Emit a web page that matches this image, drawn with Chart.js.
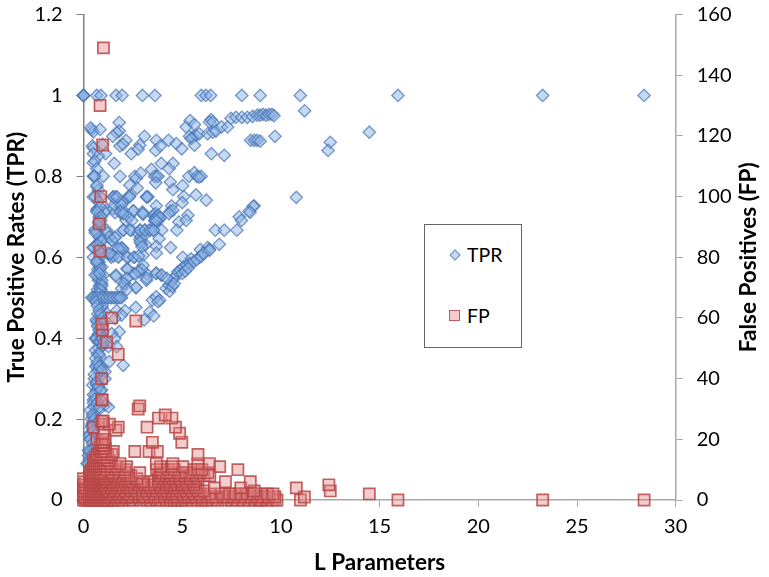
<!DOCTYPE html>
<html>
<head>
<meta charset="utf-8">
<title>TPR and FP against L</title>
<script src="https://cdn.jsdelivr.net/npm/chart.js@4/dist/chart.umd.min.js"></script>
<style>
    body { margin: 0; background: #fff; }
    #wrap { position: relative; width: 769px; height: 577px; }
    #legend {
        position: absolute; left: 424px; top: 223.5px; width: 97.5px; height: 124px;
        box-sizing: border-box;
        border: 1.5px solid #666; background: #fff;
        font: 19.5px Lato, sans-serif; color: #000;
    }
    .item { position: absolute; left: 42px; line-height: 24px; }
    .swatch { position: absolute; box-sizing: border-box; }
    .diamond { left: 25.5px; width: 8px; height: 8px; transform: rotate(45deg); }
    .square { left: 24px; width: 11px; height: 11px; }
</style>
</head>
<body>
<div id="wrap">
    <canvas id="chart" width="769" height="577"></canvas>
    <div id="legend"></div>
</div>
<script>
/*data*/
const xTicks = [0, 5, 10, 15, 20, 25, 30];
const tprTicks = [0, 0.2, 0.4, 0.6, 0.8, 1, 1.2];
const fpTicks = [0, 20, 40, 60, 80, 100, 120, 140, 160];

const tprL = [
    0,.67,.88,1.65,1.96,2.99,3.62,5.97,6.2,6.44,
    8.02,8.95,10.98,15.93,23.26,28.4,1.81,.42,.5,.37,
    .84,1.81,1.68,1.48,2.15,3.09,3.69,4.31,4.7,4.98,
    3.66,3.89,2.85,2.77,2.42,1.85,2.0,.45,.5,1.12,
    .75,.5,.97,1.56,.5,.58,.67,.5,.58,1.0,
    1.85,2.6,2.68,2.9,3.44,3.94,4.53,4.33,3.69,3.6,
    3.78,3.66,4.4,5.02,4.53,5.34,5.62,5.74,5.96,5.85,
    2.35,2.72,.67,.75,.5,.87,1.5,1.64,2.27,2.35,
    3.19,3.27,5.08,5.0,5.7,6.22,3.69,4.46,2.0,1.85,
    1.17,.67,.75,1.09,1.98,1.93,2.52,2.99,3.02,4.4,
    4.53,4.33,3.6,3.74,3.86,3.69,5.29,4.83,5.2,8.64,
    8.39,7.89,8.0,.8,2.15,1.17,.59,2.0,2.43,2.85,
    3.1,3.32,3.52,3.96,4.73,6.68,7.13,7.77,1.43,1.59,
    2.85,3.15,2.93,3.83,4.41,3.69,.84,.5,1.93,1.76,
    2.0,6.88,6.29,6.38,5.92,5.03,5.45,5.87,6.08,.5,
    .84,1.34,1.76,2.27,2.6,3.02,3.69,.84,.8,.92,
    .67,.84,1.0,.76,.92,.84,1.64,2.21,2.55,2.85,
    3.02,3.22,3.19,2.18,2.1,1.93,2.65,3.69,3.94,4.19,
    4.33,4.45,4.57,4.7,4.78,4.9,5.07,5.23,5.4,5.57,
    5.73,5.96,6.08,6.38,4.36,4.5,4.6,5.0,5.15,5.3,
    .42,.59,.76,.92,1.09,1.26,1.43,1.6,1.77,1.93,
    3.49,3.69,3.86,3.78,2.65,3.36,3.56,3.07,.92,1.09,
    1.68,2.1,1.93,1.59,.64,.84,1.81,1.43,1.59,.67,
    .76,1.0,1.26,1.68,.84,1.31,2.01,.67,.92,1.09,
    .84,1.09,.47,.76,.92,.5,.67,1.09,1.26,.76,
    .5,.34,.5,.34,.42,.25,.17,.67,.84,.6,
    .72,.8,.88,.72,.8,.88,.75,.85,.7,.8,
    .72,.82,.9,.7,.8,.68,.78,.88,.75,.65,
    .75,.85,.95,.6,.7,.8,.62,.72,.55,.65,
    .6,.5,.55,.4,.45,.3,.35,.4,.25,.3,
    5.37,5.53,5.7,5.87,5.45,5.62,5.2,5.4,5.62,6.46,
    6.38,6.55,6.29,6.55,6.71,7.0,7.3,7.47,7.72,8.02,
    8.3,8.56,8.8,8.95,9.1,9.25,9.4,9.55,9.65,11.2,
    8.47,8.65,8.8,8.95,9.7,12.5,12.39,14.48,10.78,8.6,
    8.44,6.48,7.13,1.5,1.6,1.55,1.2,1.3,2.3,2.45,
    3.55,3.65,3.75,3.6,3.7,2.75,2.9,3.1,1.4,1.25,
    0,0,0,.54,.68,.59,.76,.84,.68,.9,
    .76,.59,.84,.93,.76,.5,.68,.84,.59,.93,
    .93,.84,.76,.6,.7,.9,.66,.8,.95,.72,
    1.52,1.7,2.33,3.2,1.94,1.86,2.03,2.53,3.0,3.72,
    3.8,3.88,3.62,3.7,2.03,2.36,2.87,3.12,3.38,3.55,
    1.44,1.6,2.87,2.96,1.94,1.77,1.52,1.77,2.2,2.53,
    2.79,1.35,2.23,2.96,2.79,2.62,1.64,2.2,3.2,2.03,
    2.67,2.2,3.68,3.97,4.22,.5,.67,.84,1.0,1.18,
    1.35,1.52,1.7,1.85,.62,.7,.78,.86,.94,1.02,
    .7,.78,.86,.94,1.02,.62,.7,.8,.9,.55,
    .65,.75,.85,.5,.6,.7,.8,.45,.55,.65,
    .4,.5,.6,.35,.45,.55,.3,.4,.5,.25
];
const tprRates = [
    1,1,1,1,1,1,1,1,1,1,
    1,1,1,1,1,1,.933,.915,.91,.92,
    .916,.912,.908,.899,.889,.899,.889,.889,.881,.868,
    .864,.875,.877,.867,.856,.875,.879,.875,.87,.856,
    .85,.856,.879,.832,.833,.838,.819,.8,.8,.8,
    .8,.8,.795,.808,.817,.832,.832,.819,.8,.8,
    .8,.784,.786,.777,.767,.8,.809,.8,.8,.798,
    .778,.771,.774,.766,.749,.749,.749,.749,.749,.753,
    .749,.749,.75,.735,.754,.741,.727,.727,.737,.733,
    .718,.716,.72,.712,.716,.708,.714,.712,.706,.714,
    .716,.708,.7,.7,.695,.69,.704,.687,.691,.727,
    .714,.7,.691,.683,.691,.667,.667,.667,.667,.667,
    .667,.667,.667,.667,.667,.667,.667,.667,.642,.65,
    .644,.631,.633,.646,.624,.627,.642,.624,.624,.62,
    .62,.632,.624,.62,.619,.6,.596,.6,.61,.6,
    .613,.605,.602,.6,.6,.605,.61,.6,.588,.576,
    .556,.556,.556,.543,.535,.523,.556,.572,.56,.568,
    .58,.558,.543,.547,.535,.523,.525,.561,.556,.523,
    .531,.539,.547,.556,.564,.568,.576,.58,.584,.588,
    .594,.602,.609,.617,.516,.528,.535,.56,.566,.573,
    .5,.5,.5,.5,.5,.5,.5,.5,.5,.5,
    .494,.502,.494,.49,.476,.465,.455,.445,.476,.465,
    .468,.468,.457,.449,.445,.44,.416,.411,.399,.397,
    .375,.383,.379,.379,.354,.342,.333,.333,.329,.317,
    .305,.3,.284,.284,.272,.247,.255,.235,.23,.222,
    .214,.222,.206,.165,.185,.123,.09,.285,.25,.4,
    .72,.7,.69,.66,.65,.64,.63,.62,.59,.58,
    .57,.53,.52,.52,.51,.44,.43,.42,.41,.4,
    .39,.39,.38,.37,.36,.36,.33,.32,.3,.27,
    .26,.24,.23,.2,.19,.16,.15,.12,.11,.1,
    .899,.897,.901,.905,.893,.877,.922,.938,.928,.94,
    .934,.934,.905,.909,.912,.922,.922,.943,.946,.946,
    .946,.948,.951,.951,.953,.951,.953,.953,.95,.962,
    .889,.889,.889,.887,.899,.884,.864,.909,.748,.726,
    .711,.856,.852,.72,.71,.73,.66,.65,.7,.69,
    .705,.708,.69,.69,.7,.66,.65,.655,.6,.61,
    1,1,1,.8,.778,.749,.737,.724,.712,.7,
    .687,.667,.65,.64,.617,.624,.585,.572,.556,.543,
    .53,.52,.51,.66,.63,.61,.59,.56,.48,.46,
    .749,.749,.749,.749,.729,.712,.708,.715,.708,.698,
    .704,.698,.692,.69,.667,.667,.667,.667,.667,.667,
    .642,.648,.638,.626,.622,.622,.603,.6,.6,.6,
    .603,.609,.57,.57,.564,.558,.553,.548,.548,.535,
    .525,.52,.56,.556,.548,.5,.5,.5,.5,.5,
    .5,.5,.5,.5,.49,.48,.47,.46,.45,.44,
    .43,.42,.41,.4,.39,.35,.34,.33,.32,.31,
    .29,.28,.27,.26,.25,.24,.23,.21,.2,.19,
    .18,.17,.16,.15,.14,.13,.12,.11,.1,.09
];

/* false positives, listed per count */
const fpCounts = [0, 1, 2, 3, 4, 5, 6, 7, 8, 9, 10, 11, 12, 13, 14, 15, 16, 17, 18, 19, 20, 22, 23, 24, 25, 26, 27, 28, 30, 31, 33, 40, 48, 52, 56, 58, 59, 60, 82, 91, 100, 117, 130, 149];
const fpLAtCount = [
    [0,.1,.2,.3,.4,.5,.6,.7,.8,.9,1,1.1,1.2,1.3,1.5,1.6,1.8,2.0,2.3,2.5,2.9,3.2,3.4,3.7,3.9,4.2,4.4,4.6,4.8,5,5.2,5.5,5.8,6,6.2,6.5,6.8,7.2,7.5,7.8,8.1,8.4,8.7,8.9,9,9.3,9.6,9.8,10.99,15.93,23.26,28.4],
    [0,.1,.3,.4,.5,.6,.7,.8,.9,1,1.1,1.2,1.3,1.4,1.6,1.7,1.9,2.1,2.2,2.4,2.5,2.8,3,3.1,3.4,3.6,3.8,4.1,4.4,4.6,4.8,5.1,5.3,5.5,5.7,6,6.3,6.5,6.7,7.1,7.3,7.6,7.9,8.2,8.5,8.8,9.1,9.4,9.7,11.19],
    [0,.2,.3,.4,.5,.6,.7,.8,.9,1,1.1,1.2,1.3,1.4,1.5,1.7,1.8,2,2.2,2.3,2.6,2.8,3,3.3,3.6,3.9,4.1,4.3,4.5,4.7,5,5.3,5.6,5.9,6.4,7,7.4,7.7,8,8.3,8.6,9,9.3,9.6,14.48],
    [0,.3,.4,.5,.6,.7,.8,.9,1,1.1,1.2,1.3,1.5,1.6,1.8,1.9,2.1,2.4,2.7,3,3.2,3.5,3.7,4,4.2,4.5,4.7,4.9,5.2,5.5,5.8,6.1,8.65,12.5],
    [0,.1,.4,.5,.6,.7,.8,.9,1,1.1,1.2,1.4,1.6,1.7,1.9,2,2.2,2.4,2.6,3,3.2,3.4,3.7,3.9,4.1,4.4,4.6,4.8,5.1,5.4,5.7,6.63,7.97,10.78],
    [0,.3,.4,.5,.6,.7,.8,.9,1,1.1,1.3,1.5,1.7,1.8,2,2.2,2.4,2.8,3.1,3.3,3.6,3.9,4.2,4.4,4.6,4.8,5,5.3,5.6,12.43],
    [.1,.3,.4,.5,.6,.7,.8,.9,1,1.1,1.2,1.4,1.5,1.7,1.9,2.1,2.3,2.5,2.9,3,3.6,3.8,4,4.2,4.4,4.7,5,5.2,5.6,7.19,8.45],
    [0,.3,.4,.5,.6,.7,.8,.9,1,1.1,1.2,1.4,1.6,1.7,1.9,2.1,2.3,2.7,3.8,4.1,4.3,4.5,4.7,4.9,5.2,5.4,5.8],
    [.3,.4,.5,.6,.7,.8,.9,1,1.1,1.3,1.5,1.6,1.8,2,2.2,2.4,3.8,3.9,4.2,4.4,4.6,4.9,5.1,5.4,5.7,6.1,6.4],
    [.3,.4,.5,.6,.7,.8,.9,1,1.1,1.3,1.4,1.5,1.8,2.1,2.85,3.9,4,4.2,4.4,4.8,5.2,5.5,5.9,6.3],
    [.4,.5,.6,.7,.8,.9,1,1.1,1.2,1.4,1.6,1.8,2.1,3.7,3.9,4.3,4.6,5.6,5.8,6,7.82],
    [.5,.6,.7,.8,.9,1,1.1,1.2,1.4,1.7,2.18,3.9,4.5,5.03,6.9],
    [.5,.6,.7,.8,.9,1,1.1,1.2,1.4,1.85,3.69,4.53,5.79,6.38],
    [.5,.6,.7,.8,.9,1,1.1,1.2,1.3],
    [.6,.7,.8,.9,1,1.1,1.2],
    [.7,.85,1,1.2,1.43,5.8],
    [.9,1,1.1,1.51,2.6,3.32,3.74],
    [.8,.9,1,1.1],
    [.9,.95,1.05],
    [.9,1,3.49,4.98],
    [.67,.95,1.1],
    [1,4.87],
    [1.64],
    [.5,1.76,3.22,4.66],
    [1,1.31],
    [.92,1],
    [3.8,4.48],
    [4.14],
    [2.77],
    [2.85],
    [.92,.95],
    [.92],
    [1.76],
    [1.17],
    [.96],
    [.92],
    [2.65],
    [1.43],
    [.84],
    [.8],
    [.87],
    [.97],
    [.84],
    [1.01]
];
/**/

const fontName = 'Lato, sans-serif';
const titleFont = {family: fontName, size: 22.5, weight: 'bold'};
const tickFont = {family: fontName, size: 20};

let tprPoints = tprL.map((l, i) => ({x: l, y: tprRates[i]}));
let fpPoints = fpCounts.flatMap((count, i) => fpLAtCount[i].map(l => ({x: l, y: count})));

function forceTicks(values) {
    return function(scale) {
        scale.ticks = values.map(v => ({value: v}));
    };
}

function fitSide(width) {
    return function(scale) {
        scale.width = width;
        scale.paddingTop = 0;
        scale.paddingBottom = 0;
    };
}

/* the library turns a right hand title clockwise, this one reads upwards */
let rightTitlePlugin = {
    id: 'rightTitle',
    afterDraw(chart) {
        let ctx = chart.ctx;
        let area = chart.chartArea;
        ctx.save();
        ctx.translate(749, (area.top + area.bottom) / 2);
        ctx.rotate(-Math.PI / 2);
        ctx.textAlign = 'center';
        ctx.textBaseline = 'middle';
        ctx.fillStyle = '#000';
        ctx.font = 'bold 22.5px ' + fontName;
        ctx.fillText('False Positives (FP)', 0, 0);
        ctx.restore();
    }
};

let scatterChart = {
    type: 'scatter',
    data: {
        datasets: [{
            label: 'TPR',
            data: tprPoints,
            yAxisID: 'y',
            order: 2,
            clip: false,
            pointStyle: 'rectRot',
            pointRadius: 6.2,
            pointBorderWidth: 1.3,
            backgroundColor: 'rgba(140, 180, 230, 0.5)',
            borderColor: 'rgba(70, 115, 180, 0.72)'
        }, {
            label: 'FP',
            data: fpPoints,
            yAxisID: 'y1',
            order: 1,
            clip: false,
            pointStyle: 'rect',
            pointRadius: 7.9,
            pointBorderWidth: 1.7,
            backgroundColor: 'rgba(225, 130, 130, 0.4)',
            borderColor: 'rgba(185, 70, 70, 0.85)'
        }]
    },
    options: {
        responsive: false,
        animation: false,
        layout: {padding: {top: 14.5}},
        plugins: {
            legend: {display: false},
            tooltip: {enabled: false}
        },
        scales: {
            x: {
                type: 'linear',
                min: 0,
                max: 30,
                afterBuildTicks: forceTicks(xTicks),
                afterFit: s => { s.height = 77; s.paddingLeft = 0; s.paddingRight = 0; },
                grid: {drawOnChartArea: false, color: '#a8a8a8', tickLength: 7},
                border: {color: '#a8a8a8', width: 1.5},
                ticks: {color: '#000', font: tickFont, maxRotation: 0, padding: 8, callback: v => v},
                title: {display: true, text: 'L Parameters', color: '#000', font: titleFont, padding: {bottom: 1}}
            },
            y: {
                type: 'linear',
                position: 'left',
                min: 0,
                max: 1.2,
                afterBuildTicks: forceTicks(tprTicks),
                afterFit: fitSide(83.5),
                grid: {drawOnChartArea: false, color: '#808080', tickLength: 7},
                border: {color: '#808080', width: 1.5},
                ticks: {color: '#000', font: tickFont, padding: 14, callback: v => v},
                title: {display: true, text: 'True Positive Rates (TPR)', color: '#000', font: titleFont, padding: {top: 3}}
            },
            y1: {
                type: 'linear',
                position: 'right',
                min: 0,
                max: 160,
                afterBuildTicks: forceTicks(fpTicks),
                afterFit: fitSide(93.3),
                grid: {drawOnChartArea: false, color: '#a8a8a8', tickLength: 7},
                border: {color: '#a8a8a8', width: 1.5},
                ticks: {color: '#000', font: tickFont, padding: 14, callback: v => v}
            }
        }
    },
    plugins: [rightTitlePlugin]
};

window.onload = function() {
    let chart = new Chart(document.getElementById('chart'), scatterChart);
    buildLegend(chart);
};

function buildLegend(chart) {
    let legend = document.getElementById('legend');
    let rows = [{top: 18, swatchTop: 26.5, cls: 'diamond'}, {top: 79, swatchTop: 85.5, cls: 'square'}];
    chart.data.datasets.forEach((dataset, i) => {
        let swatch = document.createElement('div');
        swatch.className = 'swatch ' + rows[i].cls;
        swatch.style.top = rows[i].swatchTop + 'px';
        swatch.style.background = dataset.backgroundColor;
        swatch.style.border = '1.2px solid ' + dataset.borderColor;
        legend.appendChild(swatch);

        let item = document.createElement('div');
        item.className = 'item';
        item.style.top = rows[i].top + 'px';
        item.textContent = dataset.label;
        legend.appendChild(item);
    });
}
</script>
</body>
</html>
